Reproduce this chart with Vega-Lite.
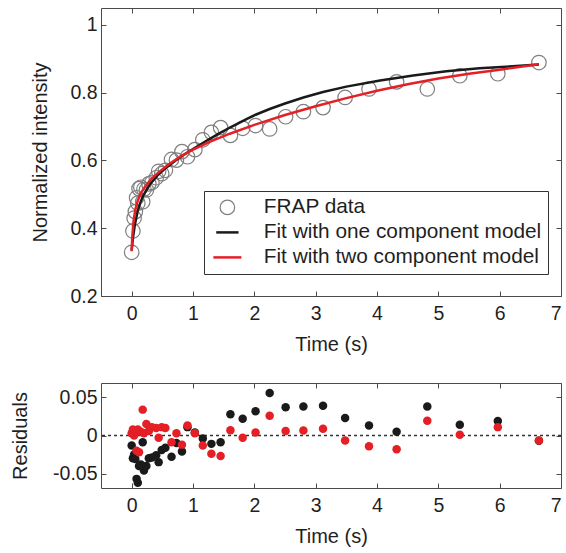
{
  "$schema": "https://vega.github.io/schema/vega-lite/v6.json",
  "padding": {"left": 9, "top": 7, "right": 0, "bottom": 0},
  "background": "white",
  "spacing": 27,
  "config": {
    "font": "Liberation Sans",
    "view": {"stroke": "#4a4a4a", "strokeWidth": 1},
    "axis": {"domain": false, "grid": false, "tickColor": "#4a4a4a", "tickSize": -5, "tickWidth": 1,
      "labelFontSize": 19.5, "labelColor": "#1f1f1f", "labelFont": "Liberation Sans",
      "titleFontSize": 20, "titleFontWeight": "normal", "titleColor": "#1f1f1f", "titleFont": "Liberation Sans"},
    "legend": {"labelLimit": 400}
  },
  "datasets": {
    "frap": [
      {"t": 0.00, "I": 0.329, "series": "FRAP data"},
      {"t": 0.02, "I": 0.392, "series": "FRAP data"},
      {"t": 0.04, "I": 0.430, "series": "FRAP data"},
      {"t": 0.06, "I": 0.449, "series": "FRAP data"},
      {"t": 0.08, "I": 0.490, "series": "FRAP data"},
      {"t": 0.10, "I": 0.474, "series": "FRAP data"},
      {"t": 0.12, "I": 0.517, "series": "FRAP data"},
      {"t": 0.15, "I": 0.521, "series": "FRAP data"},
      {"t": 0.18, "I": 0.478, "series": "FRAP data"},
      {"t": 0.20, "I": 0.515, "series": "FRAP data"},
      {"t": 0.24, "I": 0.513, "series": "FRAP data"},
      {"t": 0.28, "I": 0.531, "series": "FRAP data"},
      {"t": 0.33, "I": 0.535, "series": "FRAP data"},
      {"t": 0.40, "I": 0.549, "series": "FRAP data"},
      {"t": 0.44, "I": 0.568, "series": "FRAP data"},
      {"t": 0.49, "I": 0.561, "series": "FRAP data"},
      {"t": 0.55, "I": 0.571, "series": "FRAP data"},
      {"t": 0.65, "I": 0.603, "series": "FRAP data"},
      {"t": 0.73, "I": 0.601, "series": "FRAP data"},
      {"t": 0.82, "I": 0.626, "series": "FRAP data"},
      {"t": 0.91, "I": 0.611, "series": "FRAP data"},
      {"t": 1.03, "I": 0.632, "series": "FRAP data"},
      {"t": 1.16, "I": 0.661, "series": "FRAP data"},
      {"t": 1.30, "I": 0.683, "series": "FRAP data"},
      {"t": 1.45, "I": 0.697, "series": "FRAP data"},
      {"t": 1.61, "I": 0.674, "series": "FRAP data"},
      {"t": 1.81, "I": 0.695, "series": "FRAP data"},
      {"t": 2.02, "I": 0.703, "series": "FRAP data"},
      {"t": 2.25, "I": 0.693, "series": "FRAP data"},
      {"t": 2.51, "I": 0.729, "series": "FRAP data"},
      {"t": 2.80, "I": 0.744, "series": "FRAP data"},
      {"t": 3.12, "I": 0.756, "series": "FRAP data"},
      {"t": 3.48, "I": 0.786, "series": "FRAP data"},
      {"t": 3.87, "I": 0.811, "series": "FRAP data"},
      {"t": 4.32, "I": 0.832, "series": "FRAP data"},
      {"t": 4.82, "I": 0.811, "series": "FRAP data"},
      {"t": 5.35, "I": 0.850, "series": "FRAP data"},
      {"t": 5.97, "I": 0.856, "series": "FRAP data"},
      {"t": 6.64, "I": 0.889, "series": "FRAP data"}
    ],
    "fits": [
      {"t": 0.00, "I": 0.335, "series": "Fit with one component model"},
      {"t": 0.02, "I": 0.370, "series": "Fit with one component model"},
      {"t": 0.05, "I": 0.408, "series": "Fit with one component model"},
      {"t": 0.10, "I": 0.452, "series": "Fit with one component model"},
      {"t": 0.15, "I": 0.480, "series": "Fit with one component model"},
      {"t": 0.20, "I": 0.500, "series": "Fit with one component model"},
      {"t": 0.30, "I": 0.530, "series": "Fit with one component model"},
      {"t": 0.42, "I": 0.556, "series": "Fit with one component model"},
      {"t": 0.55, "I": 0.577, "series": "Fit with one component model"},
      {"t": 0.70, "I": 0.598, "series": "Fit with one component model"},
      {"t": 0.85, "I": 0.617, "series": "Fit with one component model"},
      {"t": 1.00, "I": 0.634, "series": "Fit with one component model"},
      {"t": 1.20, "I": 0.656, "series": "Fit with one component model"},
      {"t": 1.40, "I": 0.677, "series": "Fit with one component model"},
      {"t": 1.61, "I": 0.698, "series": "Fit with one component model"},
      {"t": 1.88, "I": 0.723, "series": "Fit with one component model"},
      {"t": 2.02, "I": 0.735, "series": "Fit with one component model"},
      {"t": 2.25, "I": 0.752, "series": "Fit with one component model"},
      {"t": 2.50, "I": 0.768, "series": "Fit with one component model"},
      {"t": 2.80, "I": 0.786, "series": "Fit with one component model"},
      {"t": 3.12, "I": 0.802, "series": "Fit with one component model"},
      {"t": 3.50, "I": 0.818, "series": "Fit with one component model"},
      {"t": 4.05, "I": 0.836, "series": "Fit with one component model"},
      {"t": 4.59, "I": 0.851, "series": "Fit with one component model"},
      {"t": 5.13, "I": 0.863, "series": "Fit with one component model"},
      {"t": 5.67, "I": 0.872, "series": "Fit with one component model"},
      {"t": 6.21, "I": 0.878, "series": "Fit with one component model"},
      {"t": 6.64, "I": 0.883, "series": "Fit with one component model"},
      {"t": 0.00, "I": 0.332, "series": "Fit with two component model"},
      {"t": 0.01, "I": 0.375, "series": "Fit with two component model"},
      {"t": 0.03, "I": 0.420, "series": "Fit with two component model"},
      {"t": 0.06, "I": 0.455, "series": "Fit with two component model"},
      {"t": 0.10, "I": 0.482, "series": "Fit with two component model"},
      {"t": 0.15, "I": 0.503, "series": "Fit with two component model"},
      {"t": 0.20, "I": 0.518, "series": "Fit with two component model"},
      {"t": 0.30, "I": 0.541, "series": "Fit with two component model"},
      {"t": 0.42, "I": 0.562, "series": "Fit with two component model"},
      {"t": 0.60, "I": 0.588, "series": "Fit with two component model"},
      {"t": 0.80, "I": 0.612, "series": "Fit with two component model"},
      {"t": 1.00, "I": 0.632, "series": "Fit with two component model"},
      {"t": 1.30, "I": 0.657, "series": "Fit with two component model"},
      {"t": 1.60, "I": 0.679, "series": "Fit with two component model"},
      {"t": 2.00, "I": 0.705, "series": "Fit with two component model"},
      {"t": 2.50, "I": 0.734, "series": "Fit with two component model"},
      {"t": 3.00, "I": 0.760, "series": "Fit with two component model"},
      {"t": 3.50, "I": 0.784, "series": "Fit with two component model"},
      {"t": 4.00, "I": 0.806, "series": "Fit with two component model"},
      {"t": 4.50, "I": 0.825, "series": "Fit with two component model"},
      {"t": 5.00, "I": 0.842, "series": "Fit with two component model"},
      {"t": 5.50, "I": 0.856, "series": "Fit with two component model"},
      {"t": 6.00, "I": 0.868, "series": "Fit with two component model"},
      {"t": 6.64, "I": 0.884, "series": "Fit with two component model"}
    ],
    "resid_one": [
      {"t": 0.00, "r": -0.013, "series": "Fit with one component model"},
      {"t": 0.02, "r": -0.030, "series": "Fit with one component model"},
      {"t": 0.04, "r": -0.025, "series": "Fit with one component model"},
      {"t": 0.06, "r": -0.031, "series": "Fit with one component model"},
      {"t": 0.08, "r": -0.057, "series": "Fit with one component model"},
      {"t": 0.10, "r": -0.062, "series": "Fit with one component model"},
      {"t": 0.12, "r": -0.040, "series": "Fit with one component model"},
      {"t": 0.15, "r": -0.038, "series": "Fit with one component model"},
      {"t": 0.18, "r": -0.009, "series": "Fit with one component model"},
      {"t": 0.20, "r": -0.046, "series": "Fit with one component model"},
      {"t": 0.24, "r": -0.040, "series": "Fit with one component model"},
      {"t": 0.28, "r": -0.030, "series": "Fit with one component model"},
      {"t": 0.33, "r": -0.029, "series": "Fit with one component model"},
      {"t": 0.40, "r": -0.026, "series": "Fit with one component model"},
      {"t": 0.44, "r": -0.035, "series": "Fit with one component model"},
      {"t": 0.49, "r": -0.019, "series": "Fit with one component model"},
      {"t": 0.55, "r": -0.016, "series": "Fit with one component model"},
      {"t": 0.65, "r": -0.028, "series": "Fit with one component model"},
      {"t": 0.73, "r": -0.010, "series": "Fit with one component model"},
      {"t": 0.82, "r": -0.021, "series": "Fit with one component model"},
      {"t": 0.91, "r": 0.011, "series": "Fit with one component model"},
      {"t": 1.03, "r": 0.004, "series": "Fit with one component model"},
      {"t": 1.16, "r": -0.004, "series": "Fit with one component model"},
      {"t": 1.30, "r": -0.011, "series": "Fit with one component model"},
      {"t": 1.45, "r": -0.009, "series": "Fit with one component model"},
      {"t": 1.61, "r": 0.028, "series": "Fit with one component model"},
      {"t": 1.81, "r": 0.022, "series": "Fit with one component model"},
      {"t": 2.02, "r": 0.032, "series": "Fit with one component model"},
      {"t": 2.25, "r": 0.056, "series": "Fit with one component model"},
      {"t": 2.51, "r": 0.037, "series": "Fit with one component model"},
      {"t": 2.80, "r": 0.038, "series": "Fit with one component model"},
      {"t": 3.12, "r": 0.039, "series": "Fit with one component model"},
      {"t": 3.48, "r": 0.023, "series": "Fit with one component model"},
      {"t": 3.87, "r": 0.013, "series": "Fit with one component model"},
      {"t": 4.32, "r": 0.005, "series": "Fit with one component model"},
      {"t": 4.82, "r": 0.038, "series": "Fit with one component model"},
      {"t": 5.35, "r": 0.014, "series": "Fit with one component model"},
      {"t": 5.97, "r": 0.019, "series": "Fit with one component model"},
      {"t": 6.64, "r": -0.007, "series": "Fit with one component model"}
    ],
    "resid_two": [
      {"t": 0.00, "r": 0.003, "series": "Fit with two component model"},
      {"t": 0.02, "r": 0.008, "series": "Fit with two component model"},
      {"t": 0.04, "r": 0.000, "series": "Fit with two component model"},
      {"t": 0.06, "r": 0.006, "series": "Fit with two component model"},
      {"t": 0.08, "r": -0.020, "series": "Fit with two component model"},
      {"t": 0.10, "r": 0.008, "series": "Fit with two component model"},
      {"t": 0.12, "r": -0.022, "series": "Fit with two component model"},
      {"t": 0.15, "r": 0.005, "series": "Fit with two component model"},
      {"t": 0.18, "r": 0.034, "series": "Fit with two component model"},
      {"t": 0.20, "r": 0.003, "series": "Fit with two component model"},
      {"t": 0.24, "r": 0.015, "series": "Fit with two component model"},
      {"t": 0.28, "r": 0.006, "series": "Fit with two component model"},
      {"t": 0.33, "r": 0.011, "series": "Fit with two component model"},
      {"t": 0.40, "r": 0.010, "series": "Fit with two component model"},
      {"t": 0.44, "r": -0.003, "series": "Fit with two component model"},
      {"t": 0.49, "r": 0.011, "series": "Fit with two component model"},
      {"t": 0.55, "r": 0.010, "series": "Fit with two component model"},
      {"t": 0.65, "r": -0.009, "series": "Fit with two component model"},
      {"t": 0.73, "r": 0.003, "series": "Fit with two component model"},
      {"t": 0.82, "r": -0.012, "series": "Fit with two component model"},
      {"t": 0.91, "r": 0.013, "series": "Fit with two component model"},
      {"t": 1.03, "r": 0.003, "series": "Fit with two component model"},
      {"t": 1.16, "r": -0.013, "series": "Fit with two component model"},
      {"t": 1.30, "r": -0.024, "series": "Fit with two component model"},
      {"t": 1.45, "r": -0.027, "series": "Fit with two component model"},
      {"t": 1.61, "r": 0.007, "series": "Fit with two component model"},
      {"t": 1.81, "r": -0.003, "series": "Fit with two component model"},
      {"t": 2.02, "r": 0.004, "series": "Fit with two component model"},
      {"t": 2.25, "r": 0.026, "series": "Fit with two component model"},
      {"t": 2.51, "r": 0.006, "series": "Fit with two component model"},
      {"t": 2.80, "r": 0.0065, "series": "Fit with two component model"},
      {"t": 3.12, "r": 0.009, "series": "Fit with two component model"},
      {"t": 3.48, "r": -0.0065, "series": "Fit with two component model"},
      {"t": 3.87, "r": -0.014, "series": "Fit with two component model"},
      {"t": 4.32, "r": -0.018, "series": "Fit with two component model"},
      {"t": 4.82, "r": 0.0195, "series": "Fit with two component model"},
      {"t": 5.35, "r": 0.001, "series": "Fit with two component model"},
      {"t": 5.97, "r": 0.011, "series": "Fit with two component model"},
      {"t": 6.64, "r": -0.0065, "series": "Fit with two component model"}
    ],
    "zero": [{"y0": 0}]
  },
  "vconcat": [
    {
      "width": 460,
      "height": 288,
      "layer": [
        {
          "data": {"name": "frap"},
          "mark": {"type": "point", "filled": false, "strokeWidth": 1.2, "opacity": 1},
          "encoding": {
            "x": {"field": "t", "type": "quantitative",
              "scale": {"domain": [-0.5, 7], "nice": false, "zero": false},
              "axis": {"orient": "bottom", "values": [0, 1, 2, 3, 4, 5, 6, 7], "labelExpr": "format(datum.value, 'd')",
                "title": "Time (s)", "labelPadding": 13, "titlePadding": 12}},
            "y": {"field": "I", "type": "quantitative",
              "scale": {"domain": [0.2, 1.05], "nice": false, "zero": false},
              "axis": {"orient": "left", "values": [0.2, 0.4, 0.6, 0.8, 1],
                "labelExpr": "datum.value == 1 ? '1' : format(datum.value, '.1f')",
                "title": "Normalized intensity", "titleX": -61, "titleY": 144, "titleBaseline": "middle", "titleAngle": -90, "titleAlign": "center", "labelPadding": 9}},
            "stroke": {"field": "series", "type": "nominal",
              "scale": {"domain": ["FRAP data", "Fit with one component model", "Fit with two component model"], "range": ["#7f7f7f", "#1a1a1a", "#e41f26"]},
              "legend": {"title": null, "orient": "none", "legendX": 103, "legendY": 183, "padding": 6, "rowPadding": 3, "symbolOffset": 7, "labelOffset": 26, "labelFontSize": 20.8, "labelLimit": 400, "labelColor": "#1f1f1f", "labelFont": "Liberation Sans", "strokeColor": "#333333", "fillColor": "white", "symbolStrokeWidth": {"expr": "datum.value === 'FRAP data' ? 1.2 : 2.5"}}},
            "fill": {"field": "series", "type": "nominal",
              "scale": {"domain": ["FRAP data", "Fit with one component model", "Fit with two component model"], "range": ["transparent", "transparent", "transparent"]},
              "legend": {"title": null, "orient": "none", "legendX": 103, "legendY": 183, "padding": 6, "rowPadding": 3, "symbolOffset": 7, "labelOffset": 26, "labelFontSize": 20.8, "labelLimit": 400, "labelColor": "#1f1f1f", "labelFont": "Liberation Sans", "strokeColor": "#333333", "fillColor": "white", "symbolStrokeWidth": {"expr": "datum.value === 'FRAP data' ? 1.2 : 2.5"}}},
            "shape": {"field": "series", "type": "nominal",
              "scale": {"domain": ["FRAP data", "Fit with one component model", "Fit with two component model"], "range": ["circle", "stroke", "stroke"]},
              "legend": {"title": null, "orient": "none", "legendX": 103, "legendY": 183, "padding": 6, "rowPadding": 3, "symbolOffset": 7, "labelOffset": 26, "labelFontSize": 20.8, "labelLimit": 400, "labelColor": "#1f1f1f", "labelFont": "Liberation Sans", "strokeColor": "#333333", "fillColor": "white", "symbolStrokeWidth": {"expr": "datum.value === 'FRAP data' ? 1.2 : 2.5"}}},
            "size": {"field": "series", "type": "nominal",
              "scale": {"domain": ["FRAP data", "Fit with one component model", "Fit with two component model"], "range": [210, 784, 784]},
              "legend": {"title": null, "orient": "none", "legendX": 103, "legendY": 183, "padding": 6, "rowPadding": 3, "symbolOffset": 7, "labelOffset": 26, "labelFontSize": 20.8, "labelLimit": 400, "labelColor": "#1f1f1f", "labelFont": "Liberation Sans", "strokeColor": "#333333", "fillColor": "white", "symbolStrokeWidth": {"expr": "datum.value === 'FRAP data' ? 1.2 : 2.5"}}}
          }
        },
        {
          "data": {"name": "fits"},
          "mark": {"type": "line", "strokeWidth": 2.5},
          "encoding": {
            "x": {"field": "t", "type": "quantitative",
              "axis": {"orient": "top", "values": [0, 1, 2, 3, 4, 5, 6, 7], "labels": false, "title": null}},
            "y": {"field": "I", "type": "quantitative",
              "axis": {"orient": "right", "values": [0.2, 0.4, 0.6, 0.8, 1], "labels": false, "title": null}},
            "stroke": {"field": "series", "type": "nominal", "legend": null},
            "order": {"field": "t", "type": "quantitative"}
          }
        }
      ],
      "resolve": {"axis": {"x": "independent", "y": "independent"}}
    },
    {
      "width": 460,
      "height": 105,
      "layer": [
        {
          "data": {"name": "zero"},
          "mark": {"type": "rule", "color": "#333333", "strokeWidth": 1.3, "strokeDash": [3, 3]},
          "encoding": {
            "y": {"field": "y0", "type": "quantitative", "scale": {"domain": [-0.069, 0.069], "nice": false, "zero": false}, "axis": null}
          }
        },
        {
          "data": {"name": "resid_one"},
          "mark": {"type": "circle", "size": 72, "opacity": 1},
          "encoding": {
            "x": {"field": "t", "type": "quantitative",
              "scale": {"domain": [-0.5, 7], "nice": false, "zero": false},
              "axis": {"orient": "bottom", "values": [0, 1, 2, 3, 4, 5, 6, 7], "labelExpr": "format(datum.value, 'd')",
                "title": "Time (s)", "labelPadding": 13, "titlePadding": 12}},
            "y": {"field": "r", "type": "quantitative",
              "axis": {"orient": "left", "values": [-0.05, 0, 0.05],
                "labelExpr": "datum.value == 0 ? '0' : (datum.value < 0 ? '-' : '') + format(abs(datum.value), '.2f')",
                "title": "Residuals", "titleX": -81, "titleY": 52.5, "titleBaseline": "middle", "titleAngle": -90, "titleAlign": "center", "labelPadding": 9}},
            "color": {"field": "series", "type": "nominal",
              "scale": {"domain": ["Fit with one component model", "Fit with two component model"], "range": ["#1a1a1a", "#e41f26"]},
              "legend": null}
          }
        },
        {
          "data": {"name": "resid_two"},
          "mark": {"type": "circle", "size": 72, "opacity": 1},
          "encoding": {
            "x": {"field": "t", "type": "quantitative",
              "axis": {"orient": "top", "values": [0, 1, 2, 3, 4, 5, 6, 7], "labels": false, "title": null}},
            "y": {"field": "r", "type": "quantitative",
              "axis": {"orient": "right", "values": [-0.05, 0, 0.05], "labels": false, "title": null}},
            "color": {"field": "series", "type": "nominal", "legend": null}
          }
        }
      ],
      "resolve": {"axis": {"x": "independent", "y": "independent"}}
    }
  ]
}
